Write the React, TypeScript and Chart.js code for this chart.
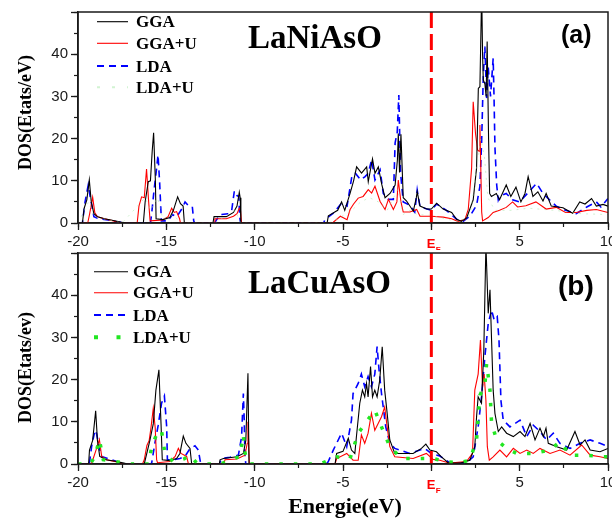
import React, { useEffect, useRef } from "react";
import { Chart, registerables } from "chart.js";
Chart.register(...registerables);

type Pt = [number, number];

// ---- axes ----
const X_MIN = -20;
const X_MAX = 10;
const Y_MIN = 0;
const Y_MAX = 50;
const xMajorStep = 5;
const xMinorStep = 2.5;
const yMajorStep = 10;
const yMinorStep = 5;
const fermiLevel = 0;
const seriesNames = ["GGA", "GGA+U", "LDA", "LDA+U"];

// ---- panel (a) LaNiAsO : [energy eV, DOS] ----
const niGGA: Pt[] = [
  [-20, 0], [-19.75, 0], [-19.65, 3.5], [-19.5, 5.5], [-19.36, 10.2], [-19.25, 5], [-19.1, 2.2], [-18.9, 1.5], [-18.5, 1], [-18, 0.6], [-17.6, 0.2], [-17.3, 0],
  [-16.3, 0], [-16.2, 5], [-16.02, 9.8], [-15.9, 10], [-15.8, 17], [-15.72, 21.4], [-15.62, 10], [-15.58, 1], [-15.2, 0.8], [-14.8, 1.3], [-14.6, 3], [-14.36, 6.2], [-14.2, 4.6], [-14.05, 4], [-13.98, 0],
  [-12.36, 0], [-12.3, 1.5], [-11.6, 1.5], [-11.2, 2.5], [-11.0, 4], [-10.87, 7.3], [-10.82, 6], [-10.78, 0],
  [-5.9, 0], [-5.83, 1.7], [-5.3, 3], [-5.08, 5.0], [-4.9, 3], [-4.6, 7], [-4.4, 10], [-4.23, 13.3], [-3.95, 11.8], [-3.66, 13.3], [-3.57, 9.8], [-3.33, 15.2], [-3.19, 11.8], [-3.0, 13.3], [-2.81, 9.2], [-2.62, 6], [-2.34, 7], [-2.05, 9], [-1.92, 15], [-1.87, 21.2], [-1.8, 12], [-1.72, 21], [-1.59, 6], [-1.4, 5.2], [-1.02, 2.8], [-0.85, 6], [-0.8, 7.4], [-0.64, 4], [-0.26, 3.3], [0, 3.3], [0.3, 4.7], [0.67, 3.3], [1.15, 2.5], [1.43, 0.9], [1.7, 0.4], [2.0, 1.2], [2.37, 5.5], [2.56, 13], [2.66, 31.9], [2.75, 32.3], [2.85, 55], [2.9, 40], [2.94, 33.9], [3.03, 33], [3.1, 30], [3.16, 43], [3.24, 20], [3.3, 7], [3.4, 6.3], [3.68, 7], [3.86, 5.5], [4.24, 9], [4.5, 6.3], [4.79, 8.5], [5.07, 5.0], [5.3, 7], [5.48, 11], [5.75, 6.3], [6.03, 7.4], [6.32, 5.2], [6.5, 7], [6.79, 4.0], [7.45, 3.6], [8.0, 2.3], [8.4, 5], [8.7, 4.5], [9.07, 5.8], [9.34, 4], [9.72, 4.4], [10, 4],
];
const niGGAU: Pt[] = [
  [-20, 0], [-19.45, 0], [-19.35, 2], [-19.17, 6.1], [-19.05, 2.5], [-18.9, 1.5], [-18.5, 1], [-18, 0.5], [-17.5, 0],
  [-16.65, 0], [-16.55, 4], [-16.4, 6.2], [-16.25, 6], [-16.12, 12.8], [-16.0, 5], [-15.92, 0.5], [-15.2, 0.7], [-14.9, 1.5], [-14.7, 3.5], [-14.55, 2.5], [-14.42, 2.7], [-14.25, 1], [-14.2, 0],
  [-12.3, 0], [-12.25, 1], [-11.6, 1], [-11.2, 1.6], [-11.0, 2.2], [-10.87, 3.5], [-10.8, 3], [-10.74, 0],
  [-5.7, 0], [-5.55, 0.2], [-5.15, 1.6], [-4.77, 0.8], [-4.6, 3.2], [-4.4, 4.5], [-4.14, 5.9], [-3.86, 6.3], [-3.57, 7.9], [-3.38, 7.1], [-3.19, 8.7], [-2.9, 5.1], [-2.62, 3.2], [-2.43, 5.6], [-2.15, 3.2], [-1.95, 5], [-1.87, 10.2], [-1.72, 5.0], [-1.59, 2.6], [-1.21, 2.6], [-0.83, 3.2], [-0.64, 1.6], [0, 1.6], [0.67, 1.4], [1.15, 1], [1.5, 0.4], [1.9, 0.8], [2.09, 3.2], [2.28, 13], [2.37, 28.7], [2.5, 21.2], [2.62, 17.3], [2.7, 17], [2.75, 23.2], [2.85, 2.6], [2.9, 0.5], [3.22, 1.3], [3.5, 2.5], [3.86, 3], [4.24, 3.7], [4.6, 5.0], [4.88, 3.8], [5.35, 4.1], [5.92, 5], [6.5, 3.3], [7.07, 3.7], [7.6, 2.5], [8.2, 2.5], [8.8, 3], [9.34, 3.2], [10, 2.5],
];
const niLDA: Pt[] = [
  [-20, 0], [-19.75, 0], [-19.6, 5], [-19.42, 9.0], [-19.3, 6], [-19.1, 1.5], [-18.8, 1], [-18.3, 0.7], [-17.8, 0.3], [-17.3, 0],
  [-15.9, 0], [-15.83, 2.2], [-15.7, 7.6], [-15.55, 13], [-15.47, 16.1], [-15.38, 9.7], [-15.28, 0.5], [-14.9, 0.5], [-14.66, 2], [-14.4, 1.5], [-14.1, 3.5], [-13.94, 5], [-13.77, 4.2], [-13.53, 3.9], [-13.45, 0.5], [-13.4, 0],
  [-12.25, 0], [-12.2, 0.5], [-11.95, 2], [-11.5, 2.2], [-11.3, 3], [-11.15, 7.6], [-11.0, 6.5], [-10.9, 6.3], [-10.85, 1.6], [-10.8, 0],
  [-6.1, 0], [-6.02, 0.8], [-5.55, 2.3], [-5.08, 4.7], [-4.77, 4], [-4.5, 11], [-4.3, 11.8], [-4.0, 10.2], [-3.75, 11], [-3.57, 11.8], [-3.38, 15], [-3.19, 10.2], [-2.9, 12.6], [-2.72, 7], [-2.43, 5.6], [-2.15, 5.6], [-2.05, 19], [-1.93, 21.5], [-1.84, 30.3], [-1.74, 11.8], [-1.59, 5], [-1.21, 4.2], [-0.94, 2.6], [-0.8, 7.8], [-0.64, 3.8], [0, 3], [0.3, 4.5], [0.85, 3], [1.43, 0.9], [1.8, 0.4], [2.18, 1.6], [2.56, 4.2], [2.75, 8.7], [2.85, 19.6], [2.94, 34.7], [3.03, 41.8], [3.13, 29.6], [3.22, 37], [3.35, 30], [3.5, 39], [3.55, 29.6], [3.6, 18], [3.7, 9], [3.79, 5.5], [3.86, 6.3], [4.24, 7], [4.6, 5.5], [5.0, 5], [5.35, 6.6], [5.96, 9.4], [6.32, 7], [6.69, 5.5], [7.07, 4], [7.6, 3], [8.2, 2.2], [8.8, 3.8], [9.34, 5], [9.6, 3.8], [10, 5.8],
];
const niLDAU: Pt[] = [
  [-20, 0], [-19.4, 5], [-19.1, 1.5], [-17.5, 0], [-16.2, 6], [-15.9, 3], [-15.5, 6], [-15.2, 1], [-14.6, 2], [-14.2, 0],
  [-12.2, 0], [-11.9, 1], [-11.1, 3], [-10.8, 0], [-5.8, 0], [-5.3, 1], [-4.5, 3], [-4, 5], [-3.5, 6], [-3, 5], [-2.5, 3], [-1.9, 8], [-1.6, 2], [-1.2, 3], [-0.8, 2], [0, 1.8], [1, 0.8], [1.6, 0.3], [2.2, 2], [2.6, 14], [2.8, 20], [3.0, 16], [3.2, 6], [3.6, 3], [4.5, 3], [5.5, 3.5], [7, 3], [8.5, 2.2], [10, 2],
];

// ---- panel (b) LaCuAsO : [energy eV, DOS] ----
const cuGGA: Pt[] = [
  [-20, 0], [-19.4, 0], [-19.35, 3.3], [-19.17, 5.6], [-19.0, 12.6], [-18.9, 5.6], [-18.77, 1.8], [-18.4, 1], [-17.81, 0.6], [-17.4, 0.2], [-17.2, 0],
  [-16.25, 0], [-15.93, 5.6], [-15.74, 9.5], [-15.59, 17.5], [-15.42, 22.3], [-15.3, 9.5], [-15.23, 1], [-14.8, 0.8], [-14.42, 1.3], [-14.23, 2.5], [-14.04, 6.6], [-13.89, 4.9], [-13.66, 3.7], [-13.57, 0.2], [-13.5, 0],
  [-12.0, 0], [-11.96, 1], [-11.77, 1.3], [-11.0, 1.7], [-10.64, 2.5], [-10.5, 5.6], [-10.38, 21.5], [-10.32, 0],
  [-5.45, 0], [-5.36, 2.5], [-5.0, 3], [-4.7, 6.1], [-4.52, 3.3], [-4.33, 2.5], [-4.24, 6.5], [-4.05, 14.4], [-3.9, 17.5], [-3.77, 15.9], [-3.67, 19.1], [-3.58, 15.9], [-3.44, 23.1], [-3.33, 15.9], [-3.2, 17.5], [-3.07, 15.9], [-2.92, 19.9], [-2.78, 27.8], [-2.64, 17.5], [-2.5, 12], [-2.35, 5.7], [-2.07, 2.5], [-1.03, 2.5], [-0.56, 3.7], [-0.31, 4.7], [-0.08, 3.3], [0.29, 2.9], [0.57, 1.7], [0.95, 0.3], [1.61, 0.2], [2.18, 0.9], [2.46, 4.1], [2.56, 11.2], [2.65, 15.9], [2.84, 14.4], [2.97, 26.9], [3.09, 52], [3.22, 35.7], [3.32, 41.3], [3.41, 29.4], [3.5, 17.5], [3.6, 12], [3.79, 7.7], [3.98, 8.8], [4.26, 7.3], [4.64, 6.5], [5.02, 7.7], [5.3, 6.5], [5.59, 9.6], [5.87, 5.7], [6.15, 8.5], [6.34, 6.5], [6.49, 8.5], [6.62, 4.9], [7.1, 4.1], [7.66, 3.3], [8.13, 7.7], [8.42, 4.5], [8.7, 5.7], [8.99, 3.3], [9.55, 2.9], [10, 3.7],
];
const cuGGAU: Pt[] = [
  [-20, 0], [-19.25, 0], [-19.17, 0.9], [-18.98, 3.3], [-18.79, 5.8], [-18.66, 1.8], [-18.4, 1], [-17.8, 0.5], [-17.4, 0],
  [-16.35, 0], [-16.25, 1], [-16.1, 4.4], [-15.97, 5.6], [-15.87, 8.6], [-15.74, 13.2], [-15.63, 8.6], [-15.55, 1], [-15.5, 0.3], [-14.8, 0.6], [-14.5, 1.8], [-14.32, 3.7], [-14.17, 2.5], [-13.85, 1.8], [-13.76, 0.2], [-13.7, 0],
  [-11.75, 0], [-11.68, 1], [-11.0, 1.2], [-10.55, 2.1], [-10.42, 4.9], [-10.38, 10], [-10.3, 0],
  [-5.45, 0], [-5.36, 1.3], [-4.79, 2.5], [-4.43, 0.9], [-4.14, 0.9], [-3.96, 6.9], [-3.77, 4.9], [-3.58, 7.3], [-3.39, 12], [-3.2, 8], [-3.01, 9.6], [-2.82, 11.2], [-2.64, 13.5], [-2.5, 8.8], [-2.35, 4.1], [-2.07, 1.7], [-1.03, 1.3], [-0.28, 2.5], [0.1, 1.1], [0.48, 0.9], [1.05, 0.2], [1.99, 0.6], [2.33, 2.5], [2.46, 17.5], [2.65, 21.3], [2.78, 29.4], [2.9, 18.3], [2.99, 21.3], [3.09, 15], [3.17, 4.1], [3.28, 0.9], [3.5, 1.7], [3.88, 3.3], [4.26, 1.7], [4.64, 3.7], [5.02, 2.5], [5.4, 3.3], [5.77, 2.5], [6.15, 3.7], [6.72, 2.5], [7.28, 3.3], [7.85, 2.1], [8.51, 4.5], [8.99, 2.1], [9.55, 1.7], [10, 1.3],
];
const cuLDA: Pt[] = [
  [-20, 0], [-19.36, 0], [-19.23, 4.1], [-19.04, 8], [-18.95, 7.2], [-18.81, 4.1], [-18.66, 1.8], [-17.81, 0.6], [-17.53, 0.2], [-17.4, 0],
  [-15.9, 0], [-15.83, 0.2], [-15.65, 4.9], [-15.46, 9.2], [-15.27, 14.4], [-15.11, 16.1], [-14.98, 8.8], [-14.94, 1], [-14.6, 1], [-14.23, 1.3], [-13.94, 1.8], [-13.66, 3.7], [-13.38, 4.3], [-13.19, 3.3], [-13.06, 0.2], [-13.0, 0],
  [-12.0, 0], [-11.87, 1.3], [-11.4, 1.6], [-10.92, 2.1], [-10.74, 6.5], [-10.64, 16.7], [-10.59, 10.4], [-10.55, 1.8], [-10.5, 0],
  [-5.95, 0], [-5.84, 0.5], [-5.55, 3.3], [-5.08, 7.3], [-4.79, 4.1], [-4.52, 10.4], [-4.43, 16.7], [-4.14, 19.1], [-3.96, 21.3], [-3.77, 18.3], [-3.58, 20.7], [-3.39, 18.3], [-3.2, 21.3], [-3.07, 27.8], [-2.96, 22.3], [-2.82, 16.7], [-2.58, 8.8], [-2.35, 4.9], [-2.07, 3.7], [-1.22, 2.5], [-0.37, 3.7], [0, 2.5], [0.48, 1.9], [1.05, 0.3], [1.99, 0.3], [2.37, 1.7], [2.65, 8.8], [2.84, 15.9], [3.03, 25.4], [3.22, 33.3], [3.41, 36.5], [3.56, 34.1], [3.73, 34.9], [3.83, 29.4], [3.94, 15], [4.07, 10.4], [4.45, 8.8], [5.02, 10.4], [5.4, 6.5], [5.77, 9.2], [6.15, 7.7], [6.53, 5.7], [6.9, 7.3], [7.28, 4.9], [7.85, 3.7], [8.42, 4.9], [8.99, 5.7], [9.55, 4.9], [10, 4.1],
];
const cuLDAU: Pt[] = [
  [-20, 0], [-19.3, 0], [-19.04, 1.8], [-18.79, 5.8], [-18.57, 1], [-17.4, 0.3], [-17, 0],
  [-16.0, 0], [-15.83, 4.1], [-15.46, 8], [-15.27, 7.8], [-15.08, 2.5], [-14.6, 0.5], [-14.0, 1.2], [-13.66, 2.1], [-13.3, 0.3], [-12.7, 0],
  [-11.9, 0], [-11.5, 0.8], [-10.83, 1.8], [-10.64, 6.9], [-10.58, 3.3], [-10.45, 1], [-10.3, 0],
  [-6.3, 0], [-5.36, 1.7], [-4.6, 1.3], [-4.14, 7.3], [-3.67, 10], [-3.2, 12.8], [-2.82, 8.8], [-2.35, 4.1], [-1.69, 1.3], [-0.84, 1.3], [0.1, 1.3], [0.85, 0.5], [1.6, 0.3], [2.18, 0.9], [2.56, 5.7], [2.75, 16.3], [3.03, 18.7], [3.13, 23.8], [3.32, 17.5], [3.41, 9.6], [3.7, 5.7], [4.26, 3.7], [4.83, 2.5], [5.77, 2.5], [6.72, 3.3], [7.28, 5.3], [7.85, 2.1], [8.7, 2.1], [9.9, 1.7], [10, 1.7],
];

const SANS = "'Liberation Sans', Arial, sans-serif";
const SERIF = "'Liberation Serif', 'Times New Roman', serif";
const INK = "#1a1a1a";

interface Style { color: string; width: number; dash: number[] }
interface Spec {
  data: Pt[][];
  styles: Style[];
  legendStyles: Style[];
  material: string;
  tag: string;
  tagSize: number;
  tagX: number;
  tagBase: number;
  matBase: number;
  yTitle: string;
  yTitleY: number;
  showXTitle: boolean;
  top: number;
  height: number;
  padTop: number;
  xAxisH: number;
  legendYs: number[];
  legendX0: number;
  legendX1: number;
  legendTextX: number;
}

const sGGA: Style = { color: "#000000", width: 1.1, dash: [] };
const sGGAU: Style = { color: "#ff0000", width: 1.1, dash: [] };
const sLDA: Style = { color: "#0000ff", width: 1.6, dash: [7, 5] };

const specA: Spec = {
  data: [niGGA, niGGAU, niLDA, niLDAU],
  styles: [sGGA, sGGAU, sLDA, { color: "rgba(170,230,170,0.55)", width: 1, dash: [2, 5] }],
  legendStyles: [sGGA, sGGAU, { ...sLDA, width: 1.8 }, { color: "rgba(180,235,180,0.6)", width: 2, dash: [3, 12] }],
  material: "LaNiAsO",
  tag: "(a)",
  tagSize: 25,
  tagX: 561,
  tagBase: 43,
  matBase: 47.5,
  yTitle: "DOS(Etats/eV)",
  yTitleY: 112.5,
  showXTitle: false,
  top: 0,
  height: 250,
  padTop: 12,
  xAxisH: 27,
  legendYs: [21.7, 43.3, 66, 87.3],
  legendX0: 97,
  legendX1: 128,
  legendTextX: 136,
};

const specB: Spec = {
  data: [cuGGA, cuGGAU, cuLDA, cuLDAU],
  styles: [sGGA, sGGAU, sLDA, { color: "#22e622", width: 3.5, dash: [3.5, 11] }],
  legendStyles: [sGGA, sGGAU, { ...sLDA, width: 1.8 }, { color: "#22e622", width: 4, dash: [4, 18.5] }],
  material: "LaCuAsO",
  tag: "(b)",
  tagSize: 28,
  tagX: 558,
  tagBase: 45,
  matBase: 43.3,
  yTitle: "DOS(Etats/ev)",
  yTitleY: 117.5,
  showXTitle: true,
  top: 250,
  height: 268,
  padTop: 3,
  xAxisH: 54,
  legendYs: [21.7, 42.7, 65, 87.3],
  legendX0: 94,
  legendX1: 128,
  legendTextX: 133,
};

function Panel({ spec }: { spec: Spec }) {
  const ref = useRef<HTMLCanvasElement | null>(null);
  useEffect(() => {
    const canvas = ref.current;
    if (!canvas) return;
    const decor = {
      id: "decor",
      afterDraw(chart: any) {
        const ctx: CanvasRenderingContext2D = chart.ctx;
        const a = chart.chartArea;
        ctx.save();
        // frame
        ctx.strokeStyle = INK;
        ctx.lineWidth = 1.5;
        ctx.setLineDash([]);
        ctx.strokeRect(a.left, a.top, a.right - a.left, a.bottom - a.top);
        // legend
        spec.legendStyles.forEach((s, i) => {
          const y = spec.legendYs[i];
          ctx.beginPath();
          ctx.strokeStyle = s.color;
          ctx.lineWidth = s.width;
          ctx.setLineDash(s.dash);
          ctx.lineCap = "butt";
          ctx.moveTo(spec.legendX0, y);
          ctx.lineTo(spec.legendX1, y);
          ctx.stroke();
          ctx.setLineDash([]);
          ctx.fillStyle = "#000";
          ctx.font = `bold 17px ${SERIF}`;
          ctx.textAlign = "left";
          ctx.textBaseline = "alphabetic";
          ctx.fillText(seriesNames[i], spec.legendTextX, y + 5.5);
        });
        // material name
        ctx.fillStyle = "#000";
        ctx.font = `bold 33px ${SERIF}`;
        ctx.textAlign = "left";
        ctx.textBaseline = "alphabetic";
        ctx.fillText(spec.material, 248, spec.matBase);
        // panel tag
        ctx.font = `bold ${spec.tagSize}px ${SANS}`;
        ctx.fillText(spec.tag, spec.tagX, spec.tagBase);
        // y title
        ctx.save();
        ctx.translate(26, spec.yTitleY);
        ctx.rotate(-Math.PI / 2);
        ctx.font = `bold 18px ${SERIF}`;
        ctx.textAlign = "center";
        ctx.textBaseline = "middle";
        ctx.fillText(spec.yTitle, 0, 0);
        ctx.restore();
        // Fermi label
        const xF = chart.scales.x.getPixelForValue(fermiLevel);
        ctx.fillStyle = "#ff0000";
        ctx.textAlign = "left";
        ctx.textBaseline = "alphabetic";
        ctx.font = `bold 13px ${SANS}`;
        ctx.fillText("E", xF - 4.5, a.bottom + 25);
        ctx.font = `bold 8px ${SANS}`;
        ctx.fillText("F", xF + 4.5, a.bottom + 29);
        // x title
        if (spec.showXTitle) {
          ctx.fillStyle = "#000";
          ctx.font = `bold 22px ${SERIF}`;
          ctx.textAlign = "center";
          ctx.fillText("Energie(eV)", 345, 263);
        }
        ctx.restore();
      },
    };

    const order = [2, 3, 5, 1];
    const datasets: any[] = spec.data.map((pts, i) => ({
      label: seriesNames[i],
      data: pts.map(([x, y]) => ({ x, y })),
      borderColor: spec.styles[i].color,
      borderWidth: spec.styles[i].width,
      borderDash: spec.styles[i].dash,
      pointRadius: 0,
      tension: 0,
      fill: false,
      order: order[i],
      xAxisID: "x",
      yAxisID: "y",
    }));
    datasets.push({
      label: "EF",
      data: [{ x: fermiLevel, y: Y_MAX }, { x: fermiLevel, y: Y_MIN }],
      borderColor: "#ff0000",
      borderWidth: 3,
      borderDash: [16, 6],
      pointRadius: 0,
      fill: false,
      order: 0,
      xAxisID: "x",
      yAxisID: "y",
    });

    const tickFont = { family: SANS, size: 15 };
    const chart = new Chart(canvas, {
      type: "line",
      data: { datasets },
      options: {
        responsive: false,
        animation: false,
        devicePixelRatio: 1,
        parsing: false as any,
        layout: { padding: { left: 0, right: 4, top: spec.padTop, bottom: 0 } },
        plugins: { legend: { display: false }, tooltip: { enabled: false } },
        scales: {
          x: {
            type: "linear",
            position: "bottom",
            weight: 1,
            min: X_MIN,
            max: X_MAX,
            ticks: {
              stepSize: xMajorStep,
              autoSkip: false,
              maxRotation: 0,
              padding: 3,
              color: INK,
              font: tickFont,
              callback: (v: any) => (Number(v) === fermiLevel ? "" : String(v)),
            },
            grid: { drawOnChartArea: false, drawTicks: true, tickLength: 7, tickColor: INK, tickWidth: 1.3 },
            border: { display: true, color: INK, width: 1.5 },
            afterFit: (s: any) => { s.height = spec.xAxisH; s.paddingLeft = 0; s.paddingRight = 0; },
          },
          xMinor: {
            type: "linear",
            position: "bottom",
            weight: 0,
            min: X_MIN,
            max: X_MAX,
            ticks: { stepSize: xMinorStep, display: false, autoSkip: false },
            grid: { drawOnChartArea: false, drawTicks: true, tickLength: 4, tickColor: INK, tickWidth: 1.2 },
            border: { display: false },
            afterFit: (s: any) => { s.height = 0; s.paddingLeft = 0; s.paddingRight = 0; },
          },
          y: {
            type: "linear",
            position: "left",
            weight: 1,
            min: Y_MIN,
            max: Y_MAX,
            ticks: {
              stepSize: yMajorStep,
              autoSkip: false,
              padding: 3,
              color: INK,
              font: tickFont,
              callback: (v: any) => (Number(v) === Y_MAX ? "" : String(v)),
            },
            grid: { drawOnChartArea: false, drawTicks: true, tickLength: 7, tickColor: INK, tickWidth: 1.3 },
            border: { display: true, color: INK, width: 1.5 },
            afterFit: (s: any) => { s.width = 78; s.paddingTop = 0; s.paddingBottom = 0; },
          },
          yMinor: {
            type: "linear",
            position: "left",
            weight: 0,
            min: Y_MIN,
            max: Y_MAX,
            ticks: { stepSize: yMinorStep, display: false, autoSkip: false },
            grid: { drawOnChartArea: false, drawTicks: true, tickLength: 4, tickColor: INK, tickWidth: 1.2 },
            border: { display: false },
            afterFit: (s: any) => { s.width = 0; s.paddingTop = 0; s.paddingBottom = 0; },
          },
        },
      } as any,
      plugins: [decor],
    });
    return () => chart.destroy();
  }, [spec]);

  return (
    <canvas
      ref={ref}
      width={612}
      height={spec.height}
      style={{ position: "absolute", left: 0, top: spec.top, width: 612, height: spec.height, display: "block" }}
    />
  );
}

export default function App() {
  return (
    <div style={{ position: "fixed", left: 0, top: 0, width: 612, height: 518, background: "#ffffff", overflow: "hidden" }}>
      <Panel spec={specA} />
      <Panel spec={specB} />
    </div>
  );
}
